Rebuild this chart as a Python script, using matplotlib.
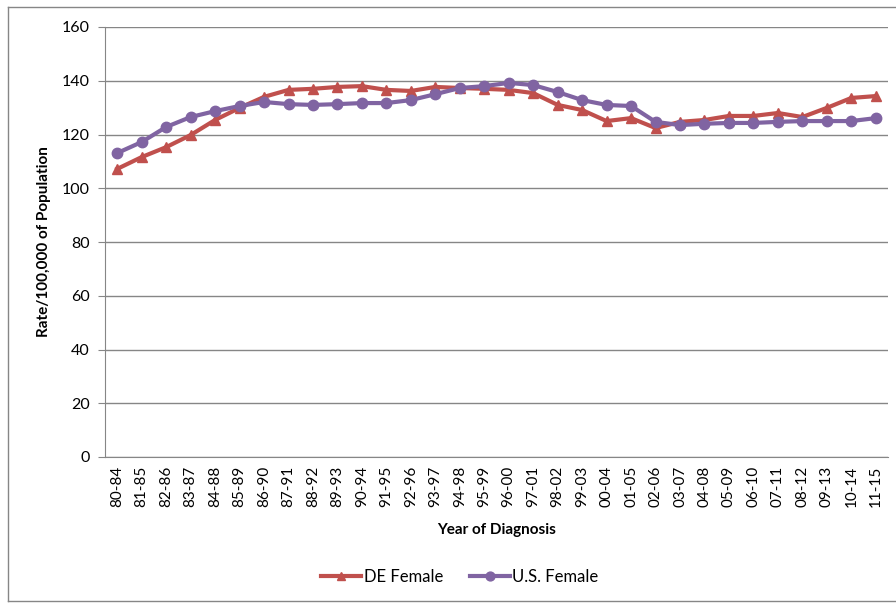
import matplotlib.pyplot as plt
from matplotlib.lines import Line2D

periods = ["80-84", "81-85", "82-86", "83-87", "84-88", "85-89", "86-90", "87-91",
           "88-92", "89-93", "90-94", "91-95", "92-96", "93-97", "94-98", "95-99",
           "96-00", "97-01", "98-02", "99-03", "00-04", "01-05", "02-06", "03-07",
           "04-08", "05-09", "06-10", "07-11", "08-12", "09-13", "10-14", "11-15"]

de_female = [107.2, 111.6, 115.3, 119.8, 125.4, 129.9, 134.0, 136.6,
             137.0, 137.7, 138.0, 136.6, 136.2, 137.7, 137.3, 137.0,
             136.6, 135.4, 131.0, 129.1, 125.0, 126.1, 122.4, 124.7,
             125.4, 126.9, 126.9, 128.0, 126.5, 129.9, 133.6, 134.3]

us_female = [113.1, 117.2, 122.8, 126.5, 128.7, 130.6, 132.1, 131.3,
             131.0, 131.3, 131.7, 131.7, 132.8, 135.0, 137.3, 138.0,
             139.2, 138.4, 135.8, 132.8, 131.0, 130.6, 124.7, 123.5,
             124.0, 124.3, 124.3, 124.7, 125.0, 125.0, 125.0, 126.1]

plt.rcParams['font.family'] = ['Lato', 'DejaVu Sans']

fig = plt.figure(figsize=(8.96, 6.03), dpi=100)
ax = fig.add_axes([105 / 896, 1 - 457 / 603, (888 - 105) / 896, (457 - 27) / 603])

x = range(len(periods))
ax.plot(x, de_female, color='#C0504D', lw=3, marker='^', ms=7.5, label='DE Female', zorder=3)
ax.plot(x, us_female, color='#8064A2', lw=3, marker='o', ms=7.5, label='U.S. Female', zorder=3)

ax.set_xlim(-0.5, len(periods) - 0.5)
ax.set_ylim(0, 160)
ax.set_yticks(range(0, 161, 20))
ax.set_xticks(list(x))
ax.set_xticklabels(periods, rotation=90, fontsize=11)
ax.tick_params(axis='y', labelsize=11.5, length=5, color='#868686', pad=6)
ax.tick_params(axis='x', length=0, pad=6)
ax.grid(axis='y', color='#868686', lw=1)
ax.set_axisbelow(True)
for side in ['top', 'right']:
    ax.spines[side].set_visible(False)
for side in ['left', 'bottom']:
    ax.spines[side].set_color('#868686')

ax.set_ylabel('Rate/100,000 of Population', fontsize=11, fontweight='bold', labelpad=8)
ax.set_xlabel('Year of Diagnosis', fontsize=11, fontweight='bold', labelpad=12)

fig.legend(loc='center', bbox_to_anchor=(460 / 896, 1 - 577 / 603), ncol=2, frameon=False,
           fontsize=12, handlelength=2.4, columnspacing=1.6, handletextpad=0.15,
           markerscale=0.85)

# outer chart border
fig.add_artist(Line2D([8 / 896, 8 / 896], [1 - 7 / 603, 1 - 601 / 603], color='#868686', lw=1))
fig.add_artist(Line2D([8 / 896, 1], [1 - 7 / 603, 1 - 7 / 603], color='#868686', lw=1))
fig.add_artist(Line2D([8 / 896, 1], [1 - 601 / 603, 1 - 601 / 603], color='#868686', lw=1))

fig.savefig('out.png', dpi=100)
